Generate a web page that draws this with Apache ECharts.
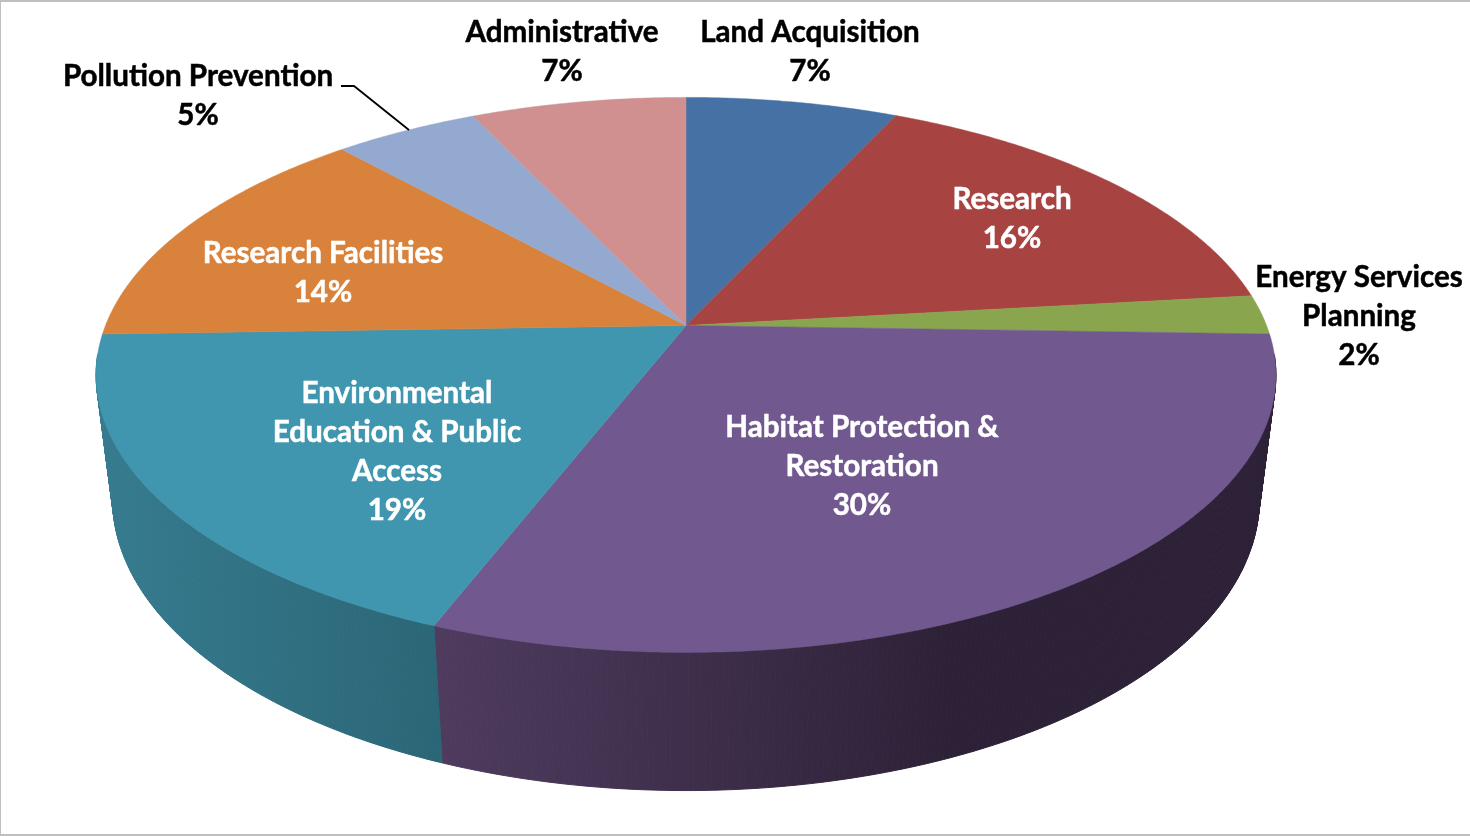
<!DOCTYPE html>
<html>
<head>
<meta charset="utf-8">
<script src="https://cdn.jsdelivr.net/npm/echarts@6/dist/echarts.min.js"></script>
<style>
html, body { margin: 0; padding: 0; background: #fff; }
#echarts { width: 1470px; height: 836px; }
</style>
</head>
<body>
<div id="echarts"></div>
<script>
// slices, clockwise from 12 o'clock
var categories = ['Land Acquisition', 'Research', 'Energy Services\nPlanning', 'Habitat Protection &\nRestoration',
    'Environmental\nEducation & Public\nAccess', 'Research Facilities', 'Pollution Prevention', 'Administrative'];
var values = [6.9, 16.3, 2.3, 30.4, 18.6, 13.8, 4.7, 7.0];
var percentLabels = ['7%', '16%', '2%', '30%', '19%', '14%', '5%', '7%'];
var topColors = ['#4671a5', '#a74442', '#89a54e', '#71588f', '#4196af', '#d9823c', '#93a9cf', '#d09090'];
var wallLight = ['#3a5a84', '#863635', '#6e843e', '#4e3b5e', '#367b8f', '#ae6830', '#7687a6', '#a77373'];
var wallDark = ['#3a5a84', '#863635', '#6e843e', '#2d2137', '#2b6676', '#ae6830', '#7687a6', '#a77373'];
var labelCenters = [[810, 52], [1012, 218.5], [1359, 316], [862, 466], [397, 451.5], [323, 272.5], [198, 96], [562, 52]];
var labelColors = ['#000', '#fff', '#000', '#fff', '#fff', '#fff', '#000', '#000'];

// camera for the tilted disc
var view = { cx: 686, cy: 325.5, a: 580.5, b: 268.7, k: 0.178, m: 0.028, depth: 126.6 };

var total = values.reduce(function (s, v) { return s + v; }, 0);
var starts = [];
values.reduce(function (s, v, i) { starts[i] = s; return s + v; }, 0);

function project(angle, h, r) {
    var u = r * Math.sin(angle), v = -r * Math.cos(angle);
    var w = 1 - view.k * v + view.m * h;
    return [view.cx + view.a * u / w, view.cy + (view.b * v + view.depth * h) / w];
}

function sliceAngles(i) {
    return [starts[i] / total * 2 * Math.PI, (starts[i] + values[i]) / total * 2 * Math.PI];
}

function renderWall(params, api) {
    var i = params.dataIndex, range = sliceAngles(i);
    var n = Math.max(2, Math.ceil((range[1] - range[0]) * 120));
    var fill = {
        type: 'linear', x: i === 3 ? 441 : 98, y: 0, x2: i === 3 ? 950 : 441, y2: 0, global: true,
        colorStops: [{ offset: 0, color: wallLight[i] }, { offset: 1, color: wallDark[i] }]
    };
    var quads = [];
    for (var j = 0; j < n; j++) {
        var a0 = range[0] + (range[1] - range[0]) * j / n;
        var a1 = range[0] + (range[1] - range[0]) * (j + 1) / n;
        // the back of the wall sits behind the top face, no need to draw it
        if (-Math.cos(a0) < 0.1 || -Math.cos(a1) < 0.1) {
            continue;
        }
        quads.push({
            type: 'polygon',
            shape: { points: [project(a0, 0, 1), project(a1, 0, 1), project(a1, 1, 1), project(a0, 1, 1)] },
            style: { fill: fill, stroke: fill, lineWidth: 1 }
        });
    }
    return { type: 'group', children: quads };
}

function renderTop(params, api) {
    var i = params.dataIndex, range = sliceAngles(i);
    var n = Math.max(2, Math.ceil((range[1] - range[0]) * 120));
    var pts = [project(0, 0, 0)];
    for (var j = 0; j <= n; j++) {
        pts.push(project(range[0] + (range[1] - range[0]) * j / n, 0, 1));
    }
    return {
        type: 'polygon',
        shape: { points: pts },
        style: { fill: topColors[i], stroke: topColors[i], lineWidth: 0.5 }
    };
}

function renderLabel(params, api) {
    var i = params.dataIndex;
    return {
        type: 'text',
        x: labelCenters[i][0],
        y: labelCenters[i][1],
        style: {
            text: categories[i] + '\n' + percentLabels[i],
            fill: labelColors[i],
            stroke: labelColors[i],
            lineWidth: 0.5,
            font: 'bold 29.6px Lato, "Open Sans", sans-serif',
            lineHeight: 39,
            align: 'center',
            verticalAlign: 'middle'
        }
    };
}

var myEChart = echarts.init(document.getElementById('echarts'), null, { renderer: 'canvas' });

var chartOption = {
    animation: false,
    backgroundColor: '#fff',
    graphic: [
        { type: 'rect', shape: { x: 0, y: 0, width: 1470, height: 2 }, style: { fill: '#bfbfbf' } },
        { type: 'rect', shape: { x: 0, y: 0, width: 1, height: 836 }, style: { fill: '#bfbfbf' } },
        { type: 'rect', shape: { x: 0, y: 834, width: 1470, height: 2 }, style: { fill: '#bfbfbf' } },
        { type: 'polyline', z: 10, shape: { points: [[341, 86], [354, 86], [409, 130]] },
            style: { stroke: '#000', lineWidth: 1.8, fill: 'none' } }
    ],
    series: [
        { type: 'custom', coordinateSystem: 'none', z: 1, silent: true, renderItem: renderWall, data: values },
        { type: 'custom', coordinateSystem: 'none', z: 2, silent: true, renderItem: renderTop, data: values },
        { type: 'custom', coordinateSystem: 'none', z: 3, silent: true, renderItem: renderLabel, data: values }
    ]
};

myEChart.setOption(chartOption);
</script>
</body>
</html>
